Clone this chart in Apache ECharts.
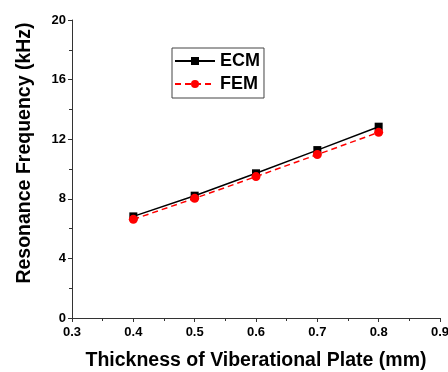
<!DOCTYPE html>
<html><head><meta charset="utf-8">
<script src="https://cdn.jsdelivr.net/npm/echarts@6/dist/echarts.min.js"></script>
<style>html,body{margin:0;padding:0;background:#fff}#c{width:448px;height:372px}</style>
</head><body><div id="c"></div>
<script>
const thickness = [0.4, 0.5, 0.6, 0.7, 0.8];
const ecm = [6.82, 8.21, 9.71, 11.27, 12.84];
const fem = [6.62, 8.03, 9.49, 10.97, 12.46];
const xName = 'Thickness of Viberational Plate (mm)';
const yName = 'Resonance Frequency (kHz)';
const font = '"Liberation Sans", Arial, sans-serif';

const chart = echarts.init(document.getElementById('c'));
chart.setOption({
  animation: false,
  backgroundColor: '#fff',
  grid: {left: 72, right: 8, top: 20, bottom: 54, containLabel: false, outerBoundsMode: 'none'},
  legend: {
    left: 172, top: 48, orient: 'vertical',
    data: ['ECM', 'FEM'],
    borderColor: '#444', borderWidth: 1, borderRadius: 0,
    padding: [4, 4, 5, 2], itemGap: 5, itemWidth: 40, itemHeight: 10,
    textStyle: {fontFamily: font, fontWeight: 'bold', fontSize: 18, color: '#000'}
  },
  graphic: [{
    type: 'text', x: 25, y: 153, rotation: Math.PI / 2,
    style: {text: yName, fontFamily: font, fontWeight: 'bold', fontSize: 19.5, fill: '#000',
      align: 'center', verticalAlign: 'middle'}
  }],
  xAxis: {
    type: 'value', min: 0.3, max: 0.9, interval: 0.1,
    name: xName, nameLocation: 'middle', nameGap: 33,
    nameTextStyle: {fontFamily: font, fontWeight: 'bold', fontSize: 19.5, color: '#000'},
    axisLine: {show: true, onZero: false, lineStyle: {color: '#333', width: 1}},
    axisTick: {show: true, inside: false, length: 4, lineStyle: {color: '#333'}},
    minorTick: {show: true, splitNumber: 2, length: 3, lineStyle: {color: '#333'}},
    splitLine: {show: false},
    axisLabel: {fontFamily: font, fontWeight: 'bold', fontSize: 13, color: '#000', margin: 8,
      formatter: v => v.toFixed(1)}
  },
  yAxis: {
    type: 'value', min: 0, max: 20, interval: 4,
    axisLine: {show: true, lineStyle: {color: '#333', width: 1}},
    axisTick: {show: true, inside: false, length: 4, lineStyle: {color: '#333'}},
    minorTick: {show: true, splitNumber: 2, length: 3, lineStyle: {color: '#333'}},
    splitLine: {show: false},
    axisLabel: {fontFamily: font, fontWeight: 'bold', fontSize: 13, color: '#000', margin: 6}
  },
  series: [
    {name: 'ECM', type: 'line', data: thickness.map((x, i) => [x, ecm[i]]),
     symbol: 'rect', symbolSize: 8, color: '#000',
     lineStyle: {color: '#000', width: 1.5}, itemStyle: {color: '#000'}},
    {name: 'FEM', type: 'line', data: thickness.map((x, i) => [x, fem[i]]),
     symbol: 'circle', symbolSize: 9, color: '#f00',
     lineStyle: {color: '#f00', width: 1.5, type: [6, 4]}, itemStyle: {color: '#f00'}}
  ]
});
</script></body></html>
